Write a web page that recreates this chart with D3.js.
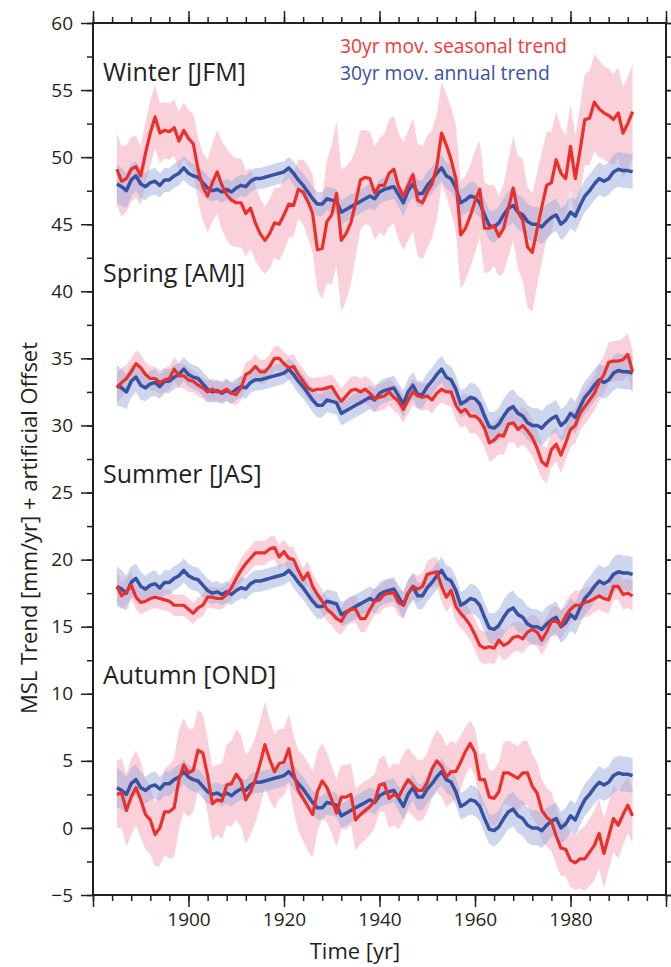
<!DOCTYPE html>
<html>
<head>
<meta charset="utf-8">
<script src="https://cdn.jsdelivr.net/npm/d3@7"></script>
<style>
  body { margin: 0; background: #fff; }
  svg text { font-family: "Open Sans", "Noto Sans", sans-serif; fill: #231f20; }
  .axis text { font-size: 19px; }
  .axis line { stroke: #231f20; stroke-width: 1.5; }
  .axis path { display: none; }
</style>
</head>
<body>
<div id="chart"></div>
<script>
// 30yr moving MSL trends, one value per year 1885..1993
var years = d3.range(1885, 1994);

// annual trend (drawn in blue), same curve for every season + offset
var annualTrend = [3.0, 2.8, 2.5, 3.3, 3.6, 3.0,
  2.8, 3.1, 3.2, 2.9, 3.3,  3.3, 3.6, 3.8, 4.2, 3.8,
  3.6, 3.5, 3.1, 2.7, 2.5,  2.6, 2.4, 2.6, 2.4, 2.7,
  2.9, 2.8, 3.2, 3.4, 3.4,  3.5, 3.6, 3.7, 3.8, 3.9,
  4.2, 3.8, 3.3, 2.9, 2.4,  1.9, 1.5, 1.5, 1.9, 1.8,
  1.7, 0.9, 1.1, 1.3, 1.5,  1.7, 1.9, 2.1, 1.9, 2.4,
  2.6, 2.7, 2.8, 2.2, 1.6,  2.5, 3.0, 2.3, 2.3, 2.9,
  3.3, 3.8, 4.2, 3.6, 3.4,  2.7, 1.6, 1.8, 2.1, 2.0,
  1.6, 0.7, -0.1, -0.2, 0.1,  0.7, 1.2, 1.4, 0.9, 0.7,
  0.2, 0.0, 0.0, -0.2, 0.2,  0.5, 0.7, 0.0, 0.3, 0.9,
  0.6, 1.4, 2.1, 2.5, 3.0,  3.4, 3.2, 3.4, 3.9, 4.1,
  4.0, 4.0, 3.9];
var annualSpread = [1.5, 1.4, 1.3, 1.2, 1.1, 1.1,
  1.0, 1.0, 1.0, 0.9, 0.9,  0.9, 0.9, 0.9, 0.9, 0.9,
  0.9, 0.9, 0.9, 0.9, 0.8,  0.8, 0.8, 0.8, 0.8, 0.8,
  0.8, 0.8, 0.8, 0.8, 0.8,  0.8, 0.8, 0.8, 0.8, 0.8,
  0.8, 0.9, 0.9, 0.9, 0.9,  0.9, 0.9, 0.9, 0.9, 0.9,
  0.9, 0.9, 0.9, 0.9, 0.9,  0.9, 0.9, 0.9, 0.9, 0.9,
  0.9, 0.9, 0.9, 0.9, 1.0,  1.0, 1.0, 1.0, 1.0, 1.0,
  1.0, 1.0, 1.0, 1.0, 1.0,  1.0, 1.0, 1.0, 1.1, 1.1,
  1.1, 1.1, 1.1, 1.2, 1.2,  1.3, 1.3, 1.3, 1.3, 1.3,
  1.3, 1.3, 1.3, 1.3, 1.3,  1.2, 1.2, 1.2, 1.2, 1.2,
  1.2, 1.2, 1.2, 1.2, 1.2,  1.2, 1.2, 1.2, 1.3, 1.3,
  1.3, 1.3, 1.3];

// seasonal trends (red), already including the artificial offset
var winterTrend = [49.1, 48.2, 48.4, 49.1, 49.3, 48.6,
  50.3, 51.8, 53.0, 51.8, 52.0,  51.9, 52.2, 51.2, 52.0, 51.4,
  51.0, 49.1, 47.8, 47.1, 48.1,  48.9, 47.9, 47.2, 46.8, 46.6,
  46.6, 45.8, 46.2, 45.1, 44.3,  43.8, 44.3, 45.1, 45.0, 45.7,
  46.5, 46.4, 47.6, 47.4, 46.7,  45.8, 43.1, 43.2, 45.2, 45.7,
  47.3, 43.8, 44.3, 45.1, 46.6,  48.3, 48.5, 48.4, 47.3, 47.9,
  47.9, 48.8, 49.1, 47.8, 47.1,  47.9, 48.7, 46.8, 46.6, 47.4,
  48.0, 49.3, 51.8, 50.9, 49.8,  48.4, 44.2, 44.7, 45.6, 46.7,
  47.6, 44.7, 44.7, 44.9, 44.1,  44.7, 46.2, 47.7, 45.9, 45.3,
  43.3, 42.9, 44.6, 46.3, 47.9,  48.1, 49.8, 48.8, 48.4, 50.8,
  48.4, 50.5, 52.8, 52.9, 54.1,  53.6, 53.3, 53.1, 52.8, 53.3,
  51.8, 52.5, 53.4];
var winterSpread = [2.7, 2.6, 2.5, 2.4, 2.3, 2.2,
  2.3, 2.4, 2.4, 2.2, 2.1,  2.1, 2.1, 2.2, 2.1, 2.1,
  2.2, 2.4, 2.5, 2.7, 2.9,  3.1, 3.3, 3.4, 3.4, 3.3,
  3.3, 3.2, 3.0, 2.8, 2.6,  2.5, 2.6, 2.6, 2.7, 2.7,
  2.5, 2.3, 2.2, 2.4, 2.7,  2.9, 3.0, 3.8, 4.6, 5.2,
  5.4, 5.3, 5.0, 4.6, 4.0,  3.7, 3.5, 3.5, 3.5, 3.5,
  3.8, 4.0, 4.0, 4.0, 4.0,  4.1, 4.2, 4.2, 4.2, 4.2,
  4.0, 3.9, 3.8, 3.8, 3.9,  4.0, 4.0, 3.9, 3.8, 3.8,
  3.6, 3.4, 3.2, 3.0, 3.0,  3.3, 3.6, 3.9, 4.2, 4.5,
  4.5, 4.4, 4.2, 4.1, 4.0,  3.8, 3.6, 3.4, 3.2, 3.1,
  3.2, 3.3, 3.4, 3.5, 3.6,  3.6, 3.5, 3.5, 3.4, 3.4,
  3.4, 3.5, 3.5];

var springTrend = [32.8, 33.2, 33.5, 34.0, 34.6, 34.3,
  33.8, 33.5, 33.5, 33.2, 33.4,  33.5, 34.2, 33.7, 33.7, 33.4,
  33.3, 33.0, 32.8, 32.5, 32.7,  32.5, 32.5, 32.7, 32.4, 32.3,
  32.8, 33.8, 34.0, 34.4, 34.0,  34.0, 34.4, 35.0, 35.0, 34.6,
  34.3, 34.4, 33.8, 33.3, 32.8,  32.6, 32.7, 32.7, 32.8, 32.9,
  32.3, 31.8, 32.2, 32.6, 32.7,  32.5, 32.7, 32.4, 32.0, 32.1,
  32.2, 32.5, 32.1, 31.8, 31.2,  31.9, 32.5, 32.2, 32.1, 32.2,
  31.9, 32.4, 32.7, 32.5, 32.5,  31.5, 31.0, 31.2, 30.7, 30.7,
  30.4, 29.8, 28.7, 28.9, 29.3,  29.2, 30.1, 30.2, 29.7, 30.0,
  29.6, 29.1, 28.3, 27.3, 27.0,  28.2, 28.6, 27.8, 28.7, 29.7,
  30.0, 30.9, 31.4, 31.9, 32.4,  33.2, 33.8, 34.7, 34.8, 34.8,
  34.9, 35.3, 34.0];
var springSpread = [1.1, 1.1, 1.0, 1.0, 1.0, 1.0,
  0.9, 0.9, 0.9, 0.9, 0.9,  0.9, 0.9, 0.9, 0.9, 0.9,
  0.8, 0.8, 0.8, 0.8, 0.8,  0.8, 0.8, 0.8, 0.8, 0.8,
  0.9, 0.9, 0.9, 0.9, 0.9,  0.9, 0.9, 0.9, 0.9, 0.9,
  0.9, 0.9, 0.9, 0.9, 0.9,  0.9, 0.9, 0.9, 0.9, 0.9,
  1.0, 1.0, 1.0, 1.0, 1.0,  1.0, 1.0, 1.0, 1.0, 1.0,
  1.0, 1.0, 1.0, 1.0, 1.0,  1.0, 1.0, 1.0, 1.0, 1.0,
  1.0, 1.0, 1.0, 1.0, 1.1,  1.1, 1.2, 1.2, 1.3, 1.3,
  1.4, 1.4, 1.4, 1.4, 1.4,  1.4, 1.4, 1.4, 1.4, 1.4,
  1.4, 1.4, 1.4, 1.3, 1.3,  1.3, 1.3, 1.3, 1.3, 1.3,
  1.3, 1.3, 1.3, 1.3, 1.3,  1.4, 1.4, 1.5, 1.5, 1.5,
  1.6, 1.6, 1.6];

var summerTrend = [18.0, 17.3, 17.6, 18.1, 17.2, 16.8,
  16.9, 17.1, 17.2, 17.1, 17.0,  16.9, 16.6, 16.6, 16.6, 16.3,
  16.0, 16.4, 16.6, 17.2, 17.2,  17.1, 17.1, 17.4, 17.9, 18.6,
  19.2, 19.7, 20.1, 20.5, 20.5,  20.5, 20.8, 20.9, 20.2, 20.6,
  20.1, 20.0, 19.2, 18.5, 19.0,  18.0, 17.4, 16.9, 16.3, 16.0,
  15.6, 15.4, 16.0, 16.3, 16.3,  15.6, 15.6, 16.3, 16.9, 17.0,
  17.4, 17.5, 17.5, 16.8, 16.6,  17.5, 18.0, 17.8, 18.0, 18.9,
  19.0, 19.1, 18.0, 17.2, 17.7,  16.5, 16.0, 15.6, 15.1, 14.4,
  13.6, 13.4, 13.5, 13.4, 14.0,  13.6, 13.8, 14.2, 14.3, 14.1,
  14.6, 14.8, 14.6, 14.0, 14.6,  15.4, 15.4, 15.1, 15.8, 16.3,
  16.6, 16.6, 16.8, 16.9, 17.1,  17.3, 17.1, 17.0, 18.0, 18.0,
  17.4, 17.5, 17.3];
var summerSpread = [1.1, 1.0, 1.0, 1.0, 0.9, 0.9,
  0.8, 0.8, 0.8, 0.8, 0.8,  0.8, 0.8, 0.8, 0.8, 0.8,
  0.8, 0.8, 0.8, 0.8, 0.8,  0.8, 0.8, 0.8, 0.8, 0.8,
  0.9, 0.9, 0.9, 0.9, 0.9,  0.9, 0.9, 0.9, 0.9, 0.9,
  0.9, 0.9, 0.9, 0.9, 0.9,  0.9, 0.9, 0.9, 0.9, 0.9,
  1.0, 1.0, 1.0, 1.0, 1.0,  1.0, 1.0, 1.0, 1.0, 1.0,
  1.0, 1.0, 1.0, 1.0, 1.0,  1.0, 1.0, 1.0, 1.0, 1.0,
  1.1, 1.1, 1.1, 1.1, 1.1,  1.1, 1.1, 1.1, 1.1, 1.2,
  1.2, 1.2, 1.2, 1.2, 1.1,  1.1, 1.1, 1.1, 1.1, 1.1,
  1.1, 1.1, 1.1, 1.1, 1.1,  1.1, 1.1, 1.1, 1.1, 1.1,
  1.1, 1.1, 1.1, 1.1, 1.0,  1.0, 1.0, 1.0, 1.0, 1.0,
  1.1, 1.1, 1.1];

var autumnTrend = [2.5, 2.6, 1.3, 2.3, 3.0, 2.1,
  1.0, 0.6, -0.5, 0.0, 1.2,  1.2, 1.5, 3.6, 4.7, 4.1,
  4.3, 5.8, 5.6, 3.9, 1.8,  2.1, 2.0, 3.2, 3.3, 4.0,
  3.5, 2.1, 2.7, 3.6, 4.8,  6.2, 5.1, 4.2, 4.8, 4.9,
  5.9, 4.1, 2.8, 2.2, 1.6,  1.0, 2.7, 3.5, 3.0, 2.1,
  1.1, 2.3, 2.3, 2.5, 0.6,  1.0, 1.3, 1.6, 2.0, 3.2,
  3.3, 2.2, 2.5, 2.3, 3.0,  3.6, 3.2, 2.8, 2.8, 3.4,
  4.4, 5.0, 4.6, 3.8, 4.2,  4.2, 4.9, 5.7, 6.3, 5.6,
  3.6, 3.6, 2.3, 2.2, 2.7,  4.1, 4.1, 3.9, 3.7, 4.1,
  4.1, 3.1, 2.6, 1.3, 0.8,  0.5, -0.6, -1.5, -1.6, -2.4,
  -2.6, -2.3, -2.3, -1.8, -1.3,  -0.4, -1.9, -0.6, 0.7, 0.2,
  1.0, 1.7, 0.9];
var autumnSpread = [2.5, 2.6, 2.7, 2.8, 2.8, 2.8,
  2.6, 2.5, 2.4, 2.8, 3.2,  3.5, 3.7, 3.7, 3.5, 3.3,
  3.1, 3.0, 2.9, 2.8, 2.7,  2.6, 2.8, 3.0, 3.2, 3.4,
  3.4, 3.3, 3.2, 3.2, 3.2,  3.2, 3.0, 2.8, 2.6, 2.5,
  2.6, 2.8, 3.0, 3.2, 3.3,  3.2, 3.0, 2.8, 2.6, 2.5,
  2.5, 2.4, 2.4, 2.3, 2.3,  2.2, 2.2, 2.1, 2.0, 2.0,
  2.1, 2.2, 2.3, 2.4, 2.5,  2.4, 2.3, 2.3, 2.2, 2.2,
  2.2, 2.3, 2.3, 2.3, 2.3,  2.1, 2.0, 1.8, 1.7, 1.8,
  1.9, 2.0, 2.0, 2.1, 2.2,  2.3, 2.4, 2.4, 2.4, 2.4,
  2.4, 2.4, 2.3, 2.3, 2.2,  2.2, 2.1, 2.1, 2.0, 2.0,
  2.0, 2.2, 2.4, 2.5, 2.6,  2.6, 2.6, 2.5, 2.5, 2.5,
  2.3, 2.1, 2.0];

var seasonNames = ['Winter [JFM]', 'Spring [AMJ]', 'Summer [JAS]', 'Autumn [OND]'];
var seasonOffsets = [45, 30, 15, 0];
var seasonTrends = [winterTrend, springTrend, summerTrend, autumnTrend];
var seasonSpreads = [winterSpread, springSpread, summerSpread, autumnSpread];

var yMajor = d3.range(-5, 61, 5);
var yMinor = d3.range(-5, 60.1, 2.5);
var xMajor = d3.range(1880, 2001, 20);
var xMinor = d3.range(1880, 2001, 4);

var W = 671, H = 967;
var m = {left: 93, right: 5, top: 23, bottom: 72};

var svg = d3.select('#chart').append('svg')
  .attr('width', W)
  .attr('height', H);

var x = d3.scaleLinear().domain([1880, 2000]).range([m.left, W - m.right]);
var y = d3.scaleLinear().domain([-5, 60]).range([H - m.bottom, m.top]);

var redLine = '#ed2f2a', blueLine = '#3752a3';

var area = d3.area()
  .x(function (d) { return x(d.year); })
  .y0(function (d) { return y(d.lo); })
  .y1(function (d) { return y(d.hi); });
var line = d3.line()
  .x(function (d) { return x(d.year); })
  .y(function (d) { return y(d.v); });

var seasons = seasonNames.map(function (name, k) {
  return {
    name: name,
    offset: seasonOffsets[k],
    red: years.map(function (yr, i) {
      var v = seasonTrends[k][i], s = seasonSpreads[k][i];
      return {year: yr, v: v, lo: v - s, hi: v + s};
    }),
    blue: years.map(function (yr, i) {
      var v = annualTrend[i] + seasonOffsets[k], s = annualSpread[i];
      return {year: yr, v: v, lo: v - s, hi: v + s};
    })
  };
});

var plot = svg.append('g');

// bands
seasons.forEach(function (s) {
  plot.append('path').datum(s.red)
    .attr('d', area)
    .attr('fill', '#f5a3b8')
    .attr('fill-opacity', 0.5);
  plot.append('path').datum(s.blue)
    .attr('d', area)
    .attr('fill', '#94a8d8')
    .attr('fill-opacity', 0.47);
});

// lines
seasons.forEach(function (s) {
  plot.append('path').datum(s.blue)
    .attr('d', line)
    .attr('fill', 'none')
    .attr('stroke', blueLine)
    .attr('stroke-width', 3.5)
    .attr('stroke-linejoin', 'round');
  plot.append('path').datum(s.red)
    .attr('d', line)
    .attr('fill', 'none')
    .attr('stroke', redLine)
    .attr('stroke-width', 3.2)
    .attr('stroke-linejoin', 'round');
});

// season labels
svg.selectAll('text.season')
  .data(seasons)
  .enter().append('text')
  .attr('class', 'season')
  .attr('x', m.left + 10)
  .attr('y', function (d) { return y(d.offset + 10.7); })
  .style('font-size', '25px')
  .text(function (d) { return d.name; });

// axes
var xMajorFmt = function (d) { return (d === 1880 || d === 2000) ? '' : d; };
svg.append('g').attr('class', 'axis')
  .attr('transform', 'translate(0,' + y(-5) + ')')
  .call(d3.axisBottom(x).tickValues(xMinor).tickSize(6).tickFormat(''));
svg.append('g').attr('class', 'axis')
  .attr('transform', 'translate(0,' + y(-5) + ')')
  .call(d3.axisBottom(x).tickValues(xMajor).tickSize(12).tickPadding(6).tickFormat(xMajorFmt));
svg.append('g').attr('class', 'axis')
  .attr('transform', 'translate(0,' + y(60) + ')')
  .call(d3.axisTop(x).tickValues(xMinor).tickSize(6).tickFormat(''));
svg.append('g').attr('class', 'axis')
  .attr('transform', 'translate(0,' + y(60) + ')')
  .call(d3.axisTop(x).tickValues(xMajor).tickSize(12).tickFormat(''));

svg.append('g').attr('class', 'axis')
  .attr('transform', 'translate(' + x(1880) + ',0)')
  .call(d3.axisLeft(y).tickValues(yMinor).tickSize(6).tickFormat(''));
svg.append('g').attr('class', 'axis')
  .attr('transform', 'translate(' + x(1880) + ',0)')
  .call(d3.axisLeft(y).tickValues(yMajor).tickSize(12).tickPadding(8));
svg.append('g').attr('class', 'axis')
  .attr('transform', 'translate(' + x(2000) + ',0)')
  .call(d3.axisRight(y).tickValues(yMinor).tickSize(6).tickFormat(''));
svg.append('g').attr('class', 'axis')
  .attr('transform', 'translate(' + x(2000) + ',0)')
  .call(d3.axisRight(y).tickValues(yMajor).tickSize(12).tickFormat(''));

// frame
svg.append('rect')
  .attr('x', x(1880))
  .attr('y', y(60))
  .attr('width', x(2000) - x(1880))
  .attr('height', y(-5) - y(60))
  .attr('fill', 'none')
  .attr('stroke', '#231f20')
  .attr('stroke-width', 2);

// axis titles
svg.append('text')
  .attr('x', 355)
  .attr('y', 959)
  .attr('text-anchor', 'middle')
  .style('font-size', '22px')
  .text('Time [yr]');
svg.append('text')
  .attr('transform', 'translate(37,528)rotate(-90)')
  .attr('text-anchor', 'middle')
  .style('font-size', '22px')
  .text('MSL Trend [mm/yr] + artificial Offset');

// legend
svg.append('text')
  .attr('x', 340).attr('y', 53)
  .style('font-size', '19.3px')
  .style('fill', '#ef3b36')
  .text('30yr mov. seasonal trend');
svg.append('text')
  .attr('x', 340).attr('y', 80)
  .style('font-size', '19.3px')
  .style('fill', '#3a53a4')
  .text('30yr mov. annual trend');
</script>
</body>
</html>
